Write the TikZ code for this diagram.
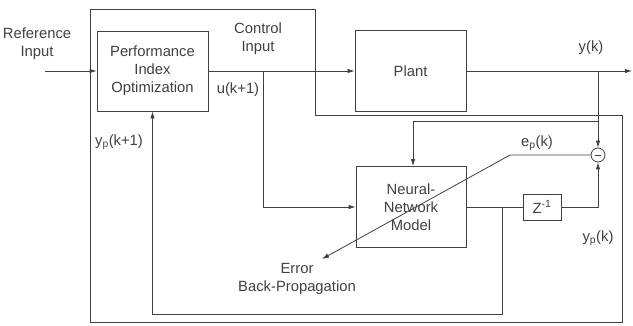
\documentclass[tikz,border=0pt]{standalone}
\usepackage{fontspec}
\setmainfont{Liberation Sans}
\usetikzlibrary{arrows.meta}
\definecolor{ink}{gray}{0.25}
\begin{document}
\begin{tikzpicture}[x=1pt,y=-1pt,
  every node/.style={font=\fontsize{14.8}{18}\selectfont, text=ink},
  blk/.style={draw=ink, line width=0.8pt, rectangle, inner sep=0pt, align=center},
  lbl/.style={align=center, inner sep=0pt},
  wire/.style={draw=ink, line width=0.8pt},
  arr/.style={wire, -{Latex[length=7pt,width=4.5pt]}}]
\useasboundingbox (0,0) rectangle (633,325);
% blocks
\node[blk, minimum width=111pt, minimum height=80pt] (pio) at (152.5,71) {Performance\\Index\\Optimization};
\node[blk, minimum width=111pt, minimum height=81pt] (plant) at (410.5,71) {Plant};
\node[blk, minimum width=110pt, minimum height=81pt] (nn) at (411,207) {Neural-\\Network\\Model};
\node[blk, minimum width=38pt, minimum height=26pt] (z) at (542,207) {Z\textsuperscript{-1}};
\node[draw=ink, line width=0.8pt, circle, minimum size=14pt, inner sep=0pt] (sum) at (598,155) {};
\draw[wire] ([xshift=-3pt]sum.center) -- ([xshift=3pt]sum.center);
% labels
\node[lbl] (ref) at (37,44) {Reference\\Input};
\node[lbl] (ctrl) at (258,39) {Control\\Input};
\node[lbl] (u) at (238,90) {u(k+1)};
\node[lbl] (yk) at (591,48) {y(k)};
\node[lbl] (ep) at (537,143) {e\textsubscript{p}(k)};
\node[lbl] (ypk) at (598,238) {y\textsubscript{p}(k)};
\node[lbl] (ypk1) at (119,142) {y\textsubscript{p}(k+1)};
\node[lbl] (err) at (297,279) {Error\\Back-Propagation};
% coordinates
\coordinate (in) at (45,71);
\coordinate (out) at (632,71);
\coordinate (b1) at (263,71);
\coordinate (b2) at (598,71);
\coordinate (b3) at (598,121);
\coordinate (b4) at (502,207);
\coordinate (c1) at (502,314);
\coordinate (kink) at (510,155);
\coordinate (etip) at (322,259);
\coordinate (o1) at (90,9);
\coordinate (o2) at (315,9);
\coordinate (o3) at (315,115);
\coordinate (o4) at (622,115);
\coordinate (o5) at (622,322);
\coordinate (o6) at (90,322);
% outer loop
\draw[wire] (o1) -- (o2) -- (o3) -- (o4) -- (o5) -- (o6) -- cycle;
% connectors
\draw[arr] (in) -- (pio.west);
\draw[arr] (pio.east) -- (plant.west);
\draw[arr] (plant.east) -- (out);
\draw[arr] (b1) |- (nn.west);
\draw[arr] (b2) -- (sum.north);
\draw[arr] (b3) -| ([xshift=2pt]nn.north);
\draw[wire] (nn.east) -- (z.west);
\draw[arr] (z.east) -| (sum.south);
\draw[arr] (b4) -- (c1) -| (pio.south);
\draw[arr] (sum.west) -- (kink) -- (etip);
\end{tikzpicture}
\end{document}
